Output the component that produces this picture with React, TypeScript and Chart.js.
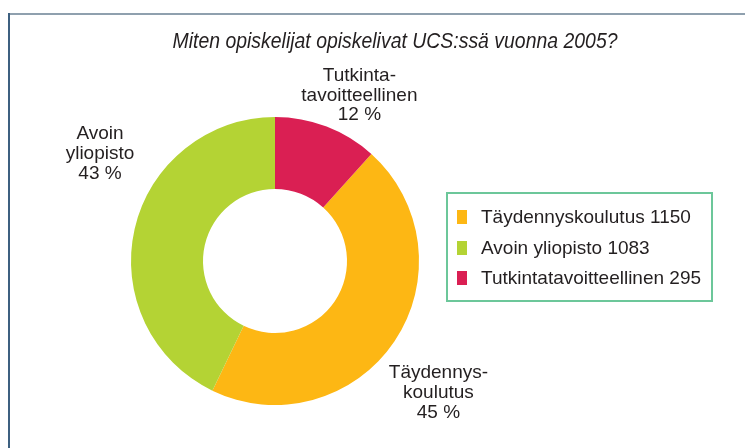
import React, { useEffect, useRef } from "react";
import { Chart, registerables } from "chart.js";

Chart.register(...registerables);

const TITLE = "Miten opiskelijat opiskelivat UCS:ssä vuonna 2005?";
const categories = ["Täydennyskoulutus", "Avoin yliopisto", "Tutkintatavoitteellinen"];
const values = [1150, 1083, 295];
const labelLines = [["Täydennys-", "koulutus"], ["Avoin", "yliopisto"], ["Tutkinta-", "tavoitteellinen"]];
const colors = ["#fdb714", "#b4d334", "#da1f53"];

// label placement (angle in degrees clockwise from top, distance relative to outer radius)
const labelPolar = [
  { angle: 128.5, dist: 1.45 },
  { angle: 301.8, dist: 1.43 },
  { angle: 26.8, dist: 1.3 },
];

const TEXT_COLOR = "#231f20";
const FONT = '"Liberation Sans", Arial, sans-serif';

const total = values.reduce((a, b) => a + b, 0);

const labelPlugin = {
  id: "outerLabels",
  afterDraw(chart: any) {
    const ctx = chart.ctx;
    const meta = chart.getDatasetMeta(0);
    const arc0 = meta.data[0];
    const cx = arc0.x;
    const cy = arc0.y;
    const r = arc0.outerRadius;
    ctx.save();
    // title
    ctx.fillStyle = TEXT_COLOR;
    ctx.textAlign = "center";
    ctx.textBaseline = "middle";
    ctx.font = `italic 21.5px ${FONT}`;
    ctx.fillText(TITLE, 395, 42, 445);
    // labels
    ctx.font = `19px ${FONT}`;
    const lh = 19.8;
    values.forEach((v, i) => {
      const p = labelPolar[i];
      const a = (p.angle * Math.PI) / 180;
      const x = cx + Math.sin(a) * r * p.dist;
      const y = cy - Math.cos(a) * r * p.dist + 1.5;
      const lines = [...labelLines[i], `${Math.round((v / total) * 100)} %`];
      const y0 = y - ((lines.length - 1) * lh) / 2;
      lines.forEach((t, j) => ctx.fillText(t, x, y0 + j * lh));
    });
    ctx.restore();
  },
};

export default function App() {
  const ref = useRef<HTMLCanvasElement>(null);
  useEffect(() => {
    if (!ref.current) return;
    const chart = new Chart(ref.current, {
      type: "doughnut",
      data: {
        labels: categories,
        datasets: [
          {
            data: values,
            backgroundColor: colors,
            borderWidth: 0,
          },
        ],
      },
      options: {
        animation: false,
        responsive: false,
        cutout: "50%",
        rotation: (360 * values[2]) / total,
        layout: { padding: { left: 131, right: 326, top: 117, bottom: 43 } },
        plugins: {
          legend: { display: false },
          title: { display: false },
          tooltip: { enabled: false },
        },
      },
      plugins: [labelPlugin],
    });
    return () => chart.destroy();
  }, []);

  return (
    <div style={{ position: "fixed", left: 0, top: 0, width: 745, height: 448, background: "#fff", overflow: "hidden" }}>
      <canvas ref={ref} width={745} height={448} style={{ position: "absolute", left: 0, top: 0 }} />
      <div style={{ position: "absolute", left: 8, top: 13, width: 737, height: 2, background: "#8fa0ae" }} />
      <div style={{ position: "absolute", left: 8, top: 13, width: 2, height: 435, background: "#3d6080" }} />
      <div
        style={{
          position: "absolute",
          left: 446,
          top: 192,
          width: 263,
          height: 106,
          border: "2px solid #6cc79a",
          fontFamily: FONT,
          fontSize: 19,
          color: TEXT_COLOR,
        }}
      >
        {categories.map((c, i) => (
          <div key={c} style={{ position: "absolute", left: 9, top: 11 + i * 30.5, height: 24, display: "flex", alignItems: "center", whiteSpace: "nowrap" }}>
            <span style={{ display: "inline-block", width: 10, height: 14, background: colors[i], marginRight: 14 }} />
            <span>{`${c} ${values[i]}`}</span>
          </div>
        ))}
      </div>
    </div>
  );
}
